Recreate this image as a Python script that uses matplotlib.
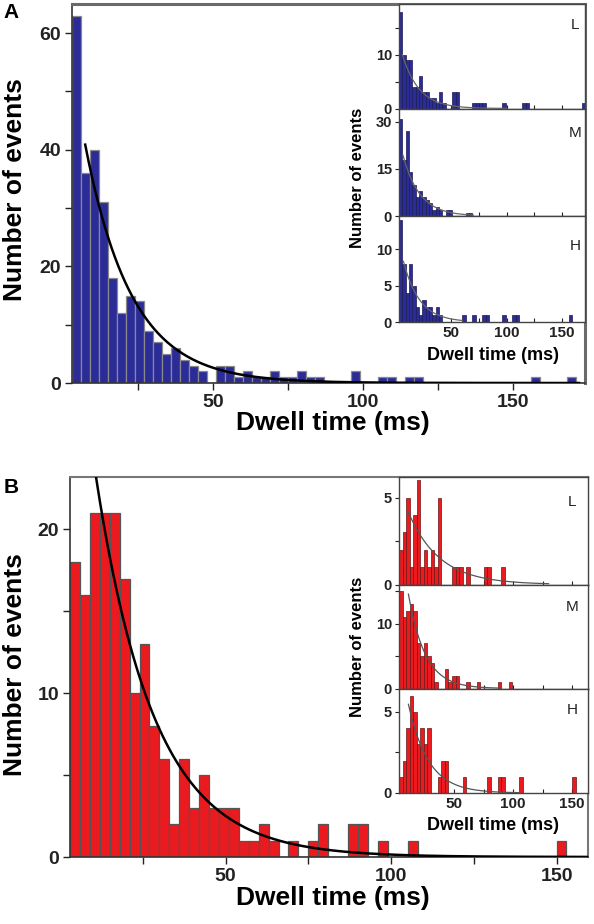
import numpy as np
import matplotlib
matplotlib.use('Agg')
import matplotlib.pyplot as plt
from matplotlib.ticker import FixedLocator

plt.rcParams['font.family'] = ['Liberation Sans', 'DejaVu Sans']
plt.rcParams['font.weight'] = 'bold'

# ---------------- data (histogram counts, 3 ms bins starting at 3 ms) ----------------
BIN_START = 3
BIN_WIDTH = 3

main_A = [63, 36, 40, 31, 18, 12, 15, 14, 9, 7,
          5, 6, 4, 3, 2, 0, 3, 3, 1, 2,
          1, 1, 2, 1, 1, 2, 1, 1, 0, 0,
          0, 2, 0, 0, 1, 1, 0, 1, 1, 0,
          0, 0, 0, 0, 0, 0, 0, 0, 0, 0,
          0, 1, 0, 0, 0, 1]
L_A = [18, 10, 9, 9, 4, 4, 6, 3, 3, 2,
       2, 1, 3, 1, 0, 0, 3, 3, 0, 0,
       0, 0, 1, 1, 1, 1, 0, 0, 0, 0,
       0, 1, 0, 0, 0, 0, 0, 1, 1, 0,
       0, 0, 0, 0, 0, 0, 0, 0, 0, 0,
       0, 0, 0, 0, 0, 1]
M_A = [31, 18, 27, 14, 10, 6, 8, 6, 5, 4,
       2, 3, 2, 0, 2, 2, 0, 0, 0, 0,
       1, 1]
H_A = [14, 8, 4, 8, 5, 2, 1, 3, 2, 2,
       1, 2, 1, 0, 0, 0, 0, 0, 0, 1,
       0, 0, 1, 0, 0, 1, 1, 0, 0, 0,
       0, 1, 0, 0, 1, 1, 0, 0, 0, 0,
       0, 0, 0, 0, 0, 0, 0, 0, 0, 0,
       0, 1]

main_B = [18, 16, 21, 21, 21, 17, 10, 13, 8, 6,
          2, 6, 3, 5, 3, 3, 3, 1, 1, 2,
          1, 0, 1, 0, 1, 2, 0, 0, 2, 2,
          0, 1, 0, 0, 1, 0, 0, 0, 0, 0,
          0, 0, 0, 0, 0, 0, 0, 0, 0, 1]
L_B = [2, 3, 5, 1, 4, 6, 1, 2, 1, 2,
       1, 5, 0, 0, 0, 1, 1, 1, 0, 1,
       0, 0, 0, 0, 1, 1, 0, 0, 0, 1]
M_B = [15, 11, 12, 13, 12, 7, 5, 7, 5, 4,
       1, 0, 0, 3, 1, 2, 2, 0, 0, 1,
       0, 0, 1, 0, 0, 0, 0, 0, 1, 0,
       0, 1]
H_B = [1, 2, 4, 6, 5, 3, 4, 3, 4, 0,
       0, 1, 2, 2, 0, 0, 0, 0, 1, 0,
       0, 0, 0, 0, 0, 1, 0, 0, 1, 1,
       0, 0, 0, 0, 1, 0, 0, 0, 0, 0,
       0, 0, 0, 0, 0, 0, 0, 0, 0, 1]

# single-exponential fits: (amplitude, tau_ms, t_start, t_end)
fit_main_A = (65.9, 15.5, 7.4, 172)
fit_L_A = (15.0, 15.0, 6.0, 100)
fit_M_A = (30.0, 15.0, 6.5, 70)
fit_H_A = (13.6, 14.4, 7.0, 60)
fit_main_B = (43.0, 17.6, 10.0, 160)
fit_L_B = (6.3, 26.5, 11.0, 130)
fit_M_B = (31.5, 14.2, 11.0, 90)
fit_H_B = (10.5, 16.9, 11.0, 105)

inset_names = ['L', 'M', 'H']

BLUE = '#2b2c98'
RED = '#ea1a1f'

W, H = 594, 924
fig = plt.figure(figsize=(W / 100, H / 100), dpi=100)


def box(l, t, r, b):
    return [l / W, 1 - b / H, (r - l) / W, (b - t) / H]


def draw_bars(ax, counts, color, edge, lw):
    left = BIN_START + BIN_WIDTH * np.arange(len(counts))
    ax.bar(left, counts, width=BIN_WIDTH, align='edge', color=color,
           edgecolor=edge, linewidth=lw, zorder=2)


def draw_fit(ax, fit, color, lw):
    a, tau, t0, t1 = fit
    t = np.linspace(t0, t1, 300)
    ax.plot(t, a * np.exp(-t / tau), color=color, lw=lw, zorder=3)


def style_main(ax, xlim, ylim, ymaj, ymin, spine_tr, lw_tr):
    ax.set_xlim(*xlim)
    ax.set_ylim(*ylim)
    ax.xaxis.set_major_locator(FixedLocator([50, 100, 150]))
    ax.xaxis.set_minor_locator(FixedLocator([25, 75, 125]))
    ax.yaxis.set_major_locator(FixedLocator(ymaj))
    ax.yaxis.set_minor_locator(FixedLocator(ymin))
    ax.tick_params(which='both', direction='out', length=5, width=1, colors='#222',
                   labelsize=14, pad=3)
    for s in ['left', 'bottom']:
        ax.spines[s].set_color('#333')
        ax.spines[s].set_linewidth(1.2)
    for s in ['top', 'right']:
        ax.spines[s].set_color(spine_tr)
        ax.spines[s].set_linewidth(lw_tr)
    for lab in ax.get_xticklabels() + ax.get_yticklabels():
        lab.set_fontweight('bold')


def style_inset(ax, xlim, ylim, ymaj, ymin, show_x):
    ax.set_xlim(*xlim)
    ax.set_ylim(*ylim)
    ax.set_facecolor('white')
    ax.xaxis.set_major_locator(FixedLocator([50, 100, 150]))
    ax.xaxis.set_minor_locator(FixedLocator([25, 75, 125]))
    ax.yaxis.set_major_locator(FixedLocator(ymaj))
    ax.yaxis.set_minor_locator(FixedLocator(ymin))
    ax.tick_params(axis='y', which='both', direction='out', length=3, width=0.8,
                   labelsize=10.5, pad=2, colors='#222')
    ax.tick_params(axis='x', which='both', direction='in', length=3, width=0.8,
                   labelsize=11, pad=3, colors='#222')
    if not show_x:
        ax.tick_params(axis='x', labelbottom=False)
    for s in ax.spines.values():
        s.set_color('#444')
        s.set_linewidth(1.0)
    for lab in ax.get_xticklabels() + ax.get_yticklabels():
        lab.set_fontweight('bold')


# ---------------- Panel A ----------------
axA = fig.add_axes(box(72, 4, 585, 383))
draw_bars(axA, main_A, BLUE, '#8a8a8a', 0.9)
draw_fit(axA, fit_main_A, 'black', 1.8)
style_main(axA, (3, 174), (0, 65), [0, 20, 40, 60], [10, 30, 50], '#6a6a6a', 2.2)

insA_boxes = [(399, 4, 585, 108.5), (399, 108.5, 585, 216), (399, 216, 585, 322)]
insA_data = [L_A, M_A, H_A]
insA_fits = [fit_L_A, fit_M_A, fit_H_A]
insA_ylims = [(0, 19.5), (0, 34.3), (0, 14.6)]
insA_ymaj = [[0, 10], [0, 15, 30], [0, 5, 10]]
insA_ymin = [[5, 15], [], []]
insA_lab_y = [25, 133, 246]
for i in range(3):
    ax = fig.add_axes(box(*insA_boxes[i]))
    draw_bars(ax, insA_data[i], BLUE, '#1a1a50', 0.5)
    draw_fit(ax, insA_fits[i], '#666666', 0.9)
    style_inset(ax, (3, 170.5), insA_ylims[i], insA_ymaj[i], insA_ymin[i], i == 2)
    fig.text(575 / W, 1 - insA_lab_y[i] / H, inset_names[i], fontsize=11,
             fontweight='normal', ha='center', va='center', color='#222')

fig.text(333 / W, 1 - 423 / H, 'Dwell time (ms)', fontsize=19, fontweight='bold',
         ha='center', va='center')
fig.text(15 / W, 1 - 190 / H, 'Number of events', fontsize=19, fontweight='bold',
         ha='center', va='center', rotation=90)
fig.text(493 / W, 1 - 355 / H, 'Dwell time (ms)', fontsize=13, fontweight='bold',
         ha='center', va='center')
fig.text(358 / W, 1 - 178 / H, 'Number of events', fontsize=12, fontweight='bold',
         ha='center', va='center', rotation=90)
fig.text(11 / W, 1 - 13 / H, 'A', fontsize=15, fontweight='bold', ha='center', va='center')

# ---------------- Panel B ----------------
axB = fig.add_axes(box(70, 477, 588, 857))
draw_bars(axB, main_B, RED, '#555555', 0.9)
draw_fit(axB, fit_main_B, 'black', 1.8)
style_main(axB, (3, 159.5), (0, 23.2), [0, 10, 20], [5, 15], '#777777', 1.5)

insB_boxes = [(399, 477, 588, 584.5), (399, 584.5, 588, 688.5), (399, 688.5, 588, 793)]
insB_data = [L_B, M_B, H_B]
insB_fits = [fit_L_B, fit_M_B, fit_H_B]
insB_ylims = [(0, 6.2), (0, 16), (0, 6.45)]
insB_ymaj = [[0, 5], [0, 10], [0, 5]]
insB_ymin = [[2.5], [5, 15], [2.5]]
insB_lab_y = [502, 607, 710]
for i in range(3):
    ax = fig.add_axes(box(*insB_boxes[i]))
    draw_bars(ax, insB_data[i], RED, '#6a1515', 0.5)
    draw_fit(ax, insB_fits[i], '#555555', 0.9)
    style_inset(ax, (3, 163.5), insB_ylims[i], insB_ymaj[i], insB_ymin[i], i == 2)
    fig.text(572 / W, 1 - insB_lab_y[i] / H, inset_names[i], fontsize=11,
             fontweight='normal', ha='center', va='center', color='#222')

fig.text(333 / W, 1 - 898 / H, 'Dwell time (ms)', fontsize=19, fontweight='bold',
         ha='center', va='center')
fig.text(15 / W, 1 - 665 / H, 'Number of events', fontsize=19, fontweight='bold',
         ha='center', va='center', rotation=90)
fig.text(493 / W, 1 - 825 / H, 'Dwell time (ms)', fontsize=13, fontweight='bold',
         ha='center', va='center')
fig.text(358 / W, 1 - 647 / H, 'Number of events', fontsize=12, fontweight='bold',
         ha='center', va='center', rotation=90)
fig.text(11 / W, 1 - 487 / H, 'B', fontsize=15, fontweight='bold', ha='center', va='center')

fig.savefig('out.png', dpi=100)
